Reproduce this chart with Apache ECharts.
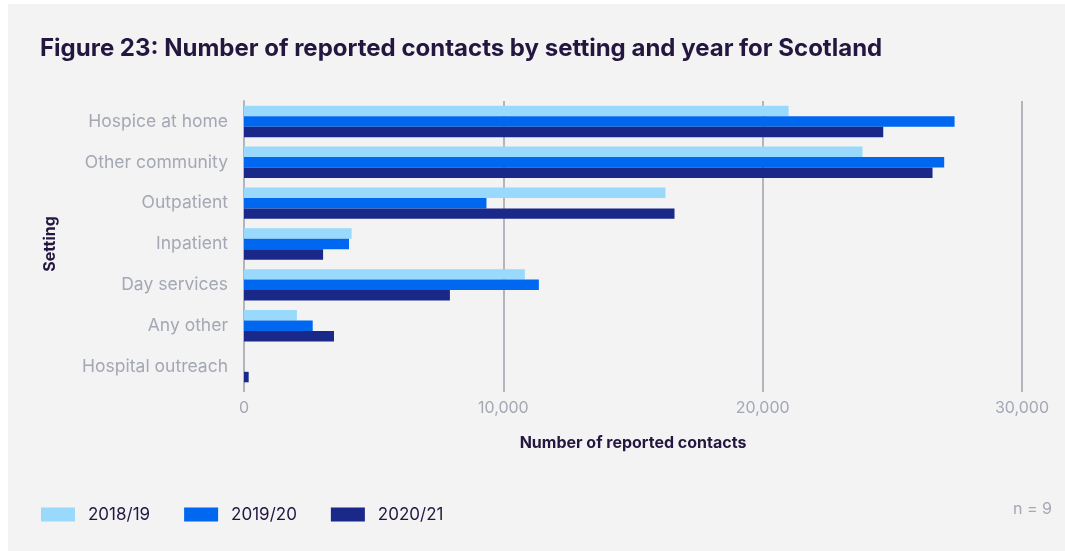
<!DOCTYPE html>
<html>
<head>
<meta charset="utf-8">
<script src="https://cdn.jsdelivr.net/npm/echarts@6/dist/echarts.min.js"></script>
<style>
  html, body { margin: 0; padding: 0; background: #ffffff; }
  #chart { position: absolute; left: 8px; top: 4px; width: 1057px; height: 547px; background: #f3f3f3; }
</style>
</head>
<body>
<div id="chart"></div>
<script>
// settings, top to bottom
var settings = ['Hospice at home', 'Other community', 'Outpatient', 'Inpatient', 'Day services', 'Any other', 'Hospital outreach'];
var years = ['2018/19', '2019/20', '2020/21'];
var contacts1819 = [21000, 23850, 16250, 4150, 10830, 2040, 0];
var contacts1920 = [27400, 27000, 9350, 4050, 11370, 2650, 0];
var contacts2021 = [24650, 26550, 16600, 3050, 7940, 3470, 180];
var xTicks = [0, 10000, 20000, 30000];

var colors = ['#99d9fc', '#0068f0', '#1a288a'];
var inkDark = '#24173f';
var inkGrey = '#a4a7b4';

var chart = echarts.init(document.getElementById('chart'));

var seriesData = [contacts1819, contacts1920, contacts2021];
var series = years.map(function (y, i) {
  return {
    name: y,
    type: 'bar',
    data: seriesData[i],
    barGap: '0%',
    barCategoryGap: '23%',
    itemStyle: { color: colors[i] }
  };
});

var option = {
  backgroundColor: '#f3f3f3',
  textStyle: { fontFamily: 'Inter, "Noto Sans", sans-serif' },
  title: {
    text: 'Figure 23: Number of reported contacts by setting and year for Scotland',
    left: 27,
    top: 28,
    textStyle: { color: inkDark, fontSize: 24, fontWeight: 'bold', fontFamily: 'Inter' }
  },
  legend: {
    left: 28,
    top: 497,
    itemWidth: 34,
    itemHeight: 14,
    itemGap: 34,
    icon: 'rect',
    data: years,
    textStyle: { color: inkDark, fontSize: 17, padding: [0, 0, 0, 8] }
  },
  graphic: [{
    type: 'text',
    right: 13,
    top: 497,
    style: { text: 'n = 9', fill: inkGrey, fontSize: 16, fontFamily: 'Inter' }
  }],
  grid: { left: 236, right: 43, top: 97, bottom: 164 },
  xAxis: {
    type: 'value',
    min: xTicks[0],
    max: xTicks[xTicks.length - 1],
    interval: 10000,
    name: 'Number of reported contacts',
    nameLocation: 'middle',
    nameGap: 48,
    nameTextStyle: { color: inkDark, fontSize: 16, fontWeight: 'bold' },
    axisLine: { show: false },
    axisTick: { show: true, length: 5, lineStyle: { color: '#b4b4bc', width: 2 } },
    axisLabel: {
      color: inkGrey, fontSize: 16, margin: 13,
      formatter: function (v) { return v.toLocaleString('en-US'); }
    },
    splitLine: { show: true, lineStyle: { color: '#b4b4bc', width: 2 } }
  },
  yAxis: {
    type: 'category',
    data: settings,
    inverse: true,
    name: 'Setting',
    nameLocation: 'middle',
    nameGap: 186,
    nameTextStyle: { color: inkDark, fontSize: 16, fontWeight: 'bold' },
    axisLine: { show: true, lineStyle: { color: '#b4b4bc', width: 2 } },
    axisTick: { show: false },
    axisLabel: { color: inkGrey, fontSize: 17.5, margin: 16 }
  },
  series: series
};

chart.setOption(option);
</script>
</body>
</html>
